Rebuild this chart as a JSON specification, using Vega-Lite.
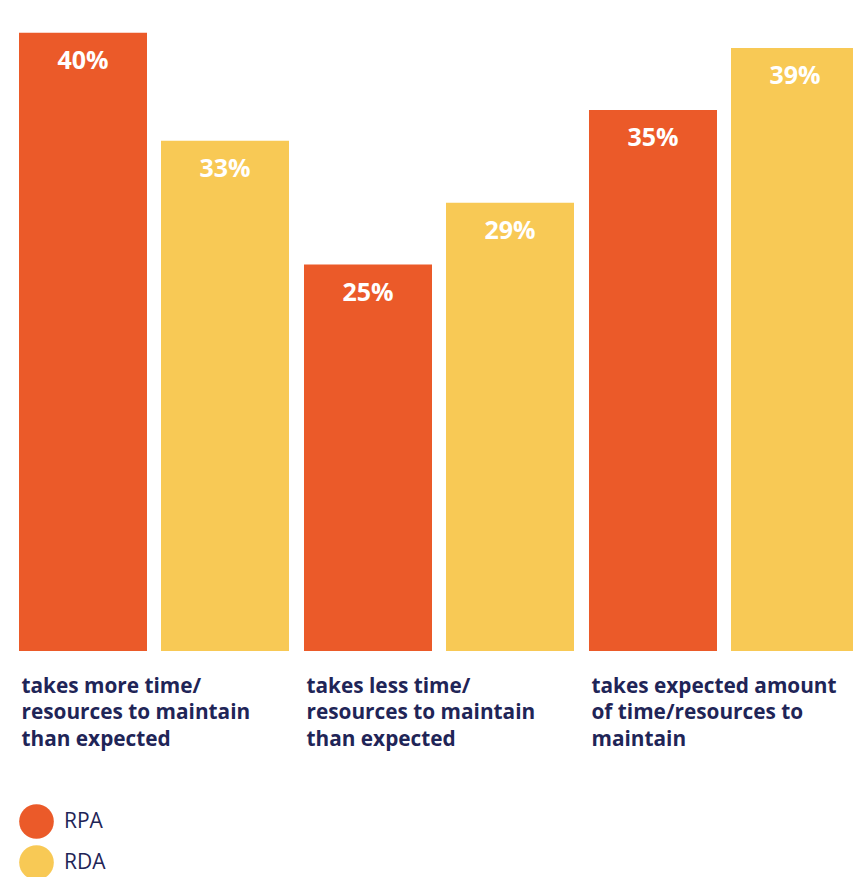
{
  "$schema": "https://vega.github.io/schema/vega-lite/v6.json",
  "width": 840,
  "height": 640,
  "autosize": {"type": "none"},
  "padding": {"left": 19, "top": 11, "right": 0, "bottom": 226},
  "background": "white",
  "config": {"view": {"stroke": null}, "font": "Open Sans"},
  "data": {
    "values": [
      {"category": "takes more time/|resources to maintain|than expected", "series": "RPA", "value": 0.40},
      {"category": "takes more time/|resources to maintain|than expected", "series": "RDA", "value": 0.33},
      {"category": "takes less time/|resources to maintain|than expected", "series": "RPA", "value": 0.25},
      {"category": "takes less time/|resources to maintain|than expected", "series": "RDA", "value": 0.29},
      {"category": "takes expected amount|of time/resources to|maintain", "series": "RPA", "value": 0.35},
      {"category": "takes expected amount|of time/resources to|maintain", "series": "RDA", "value": 0.39}
    ]
  },
  "encoding": {
    "x": {
      "field": "category",
      "type": "nominal",
      "sort": null,
      "scale": {"paddingInner": 0.0526, "paddingOuter": 0},
      "axis": {
        "title": null,
        "domain": false,
        "ticks": false,
        "labelAngle": 0,
        "labelAlign": "left",
        "labelOffset": -132.5,
        "labelBaseline": "top",
        "labelPadding": 25,
        "labelLineHeight": 26.5,
        "labelFont": "Open Sans",
        "labelFontSize": 20.8,
        "labelFontWeight": "bold",
        "labelColor": "#1F2557",
        "labelExpr": "split(datum.label, '|')",
        "labelLimit": 300
      }
    },
    "xOffset": {
      "field": "series",
      "type": "nominal",
      "sort": ["RPA", "RDA"],
      "scale": {"paddingInner": 0.0986, "paddingOuter": 0}
    },
    "y": {
      "field": "value",
      "type": "quantitative",
      "scale": {"domain": [0, 0.414], "nice": false},
      "axis": null
    }
  },
  "layer": [
    {
      "mark": {"type": "bar"},
      "encoding": {
        "color": {
          "field": "series",
          "type": "nominal",
          "sort": ["RPA", "RDA"],
          "scale": {"domain": ["RPA", "RDA"], "range": ["#EB5A29", "#F8C955"]},
          "legend": {
            "title": null,
            "orient": "none",
            "legendX": 0,
            "legendY": 793,
            "direction": "vertical",
            "symbolType": "circle",
            "symbolSize": 1200,
            "symbolStrokeWidth": 0,
            "symbolOpacity": 1,
            "rowPadding": 6,
            "labelFont": "Open Sans",
            "labelFontSize": 21,
            "labelColor": "#1F2557",
            "labelOffset": 10
          }
        }
      }
    },
    {
      "mark": {
        "type": "text",
        "baseline": "middle",
        "align": "center",
        "dy": 28,
        "color": "white",
        "font": "Open Sans",
        "fontWeight": "bold",
        "fontSize": 25
      },
      "encoding": {
        "text": {"field": "value", "type": "quantitative", "format": ".0%"}
      }
    }
  ]
}
